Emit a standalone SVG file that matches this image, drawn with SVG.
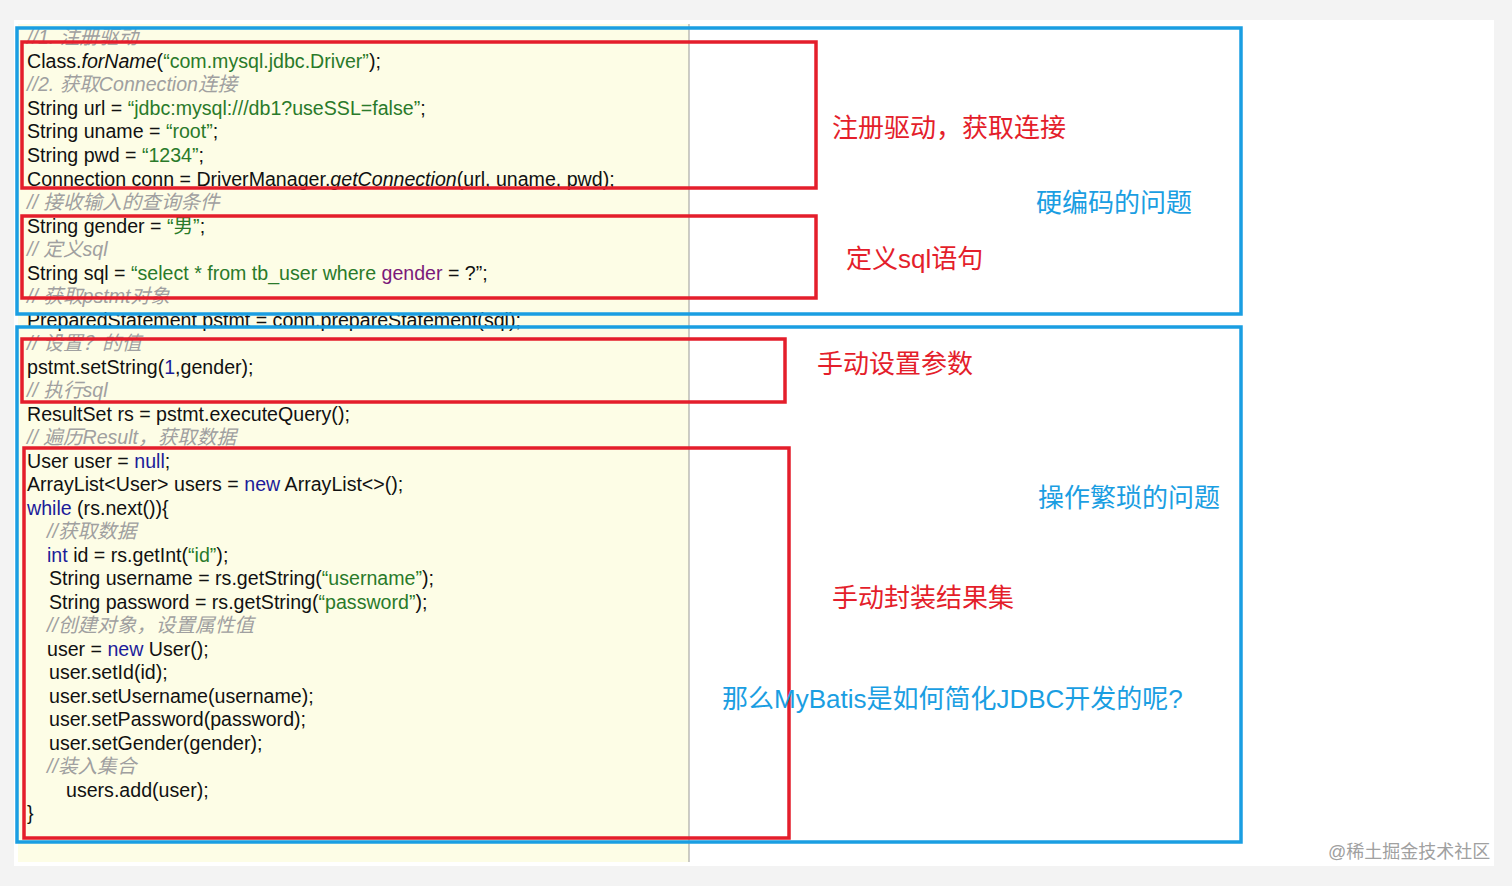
<svg xmlns="http://www.w3.org/2000/svg" width="1512" height="886" viewBox="0 0 1512 886">
<style>
text{font-family:"Liberation Sans","Noto Sans CJK SC",sans-serif}
.c{font-size:19.6px;fill:#111}
.m{fill:#a0a0a0;font-style:italic}
.s{fill:#2a7a2a}
.k{fill:#1c1c9a}
.p{fill:#7a1a7a}
.r{fill:none;stroke:#e41e2b;stroke-width:3.5}
.b{fill:none;stroke:#1a9ee2;stroke-width:3.5}
.lr{font-size:26px;fill:#e41e2b}
.lb{font-size:26px;fill:#1a9ee2}
</style>
<rect width="1512" height="886" fill="#f3f3f3"/>
<rect x="14" y="20" width="1480" height="846" fill="#fff"/>
<g id="code">
<rect x="18" y="24" width="671" height="838" fill="#fdfde6"/>
<line x1="689" y1="24" x2="689" y2="862" stroke="#999" stroke-width="1"/>
<g class="c">
<text x="27" y="44" class="m">//1. 注册驱动</text>
<text x="27" y="68">Class.<tspan font-style="italic">forName</tspan>(<tspan class="s">“com.mysql.jdbc.Driver”</tspan>);</text>
<text x="27" y="91" class="m">//2. 获取Connection连接</text>
<text x="27" y="115">String url = <tspan class="s">“jdbc:mysql:///db1?useSSL=false”</tspan>;</text>
<text x="27" y="138">String uname = <tspan class="s">“root”</tspan>;</text>
<text x="27" y="162">String pwd = <tspan class="s">“1234”</tspan>;</text>
<text x="27" y="186">Connection conn = DriverManager.<tspan font-style="italic">getConnection</tspan>(url, uname, pwd);</text>
<text x="27" y="209" class="m">// 接收输入的查询条件</text>
<text x="27" y="233">String gender = <tspan class="s">“男”</tspan>;</text>
<text x="27" y="256" class="m">// 定义sql</text>
<text x="27" y="280">String sql = <tspan class="s">“select * from tb_user where </tspan><tspan class="p">gender</tspan> = ?”;</text>
<text x="27" y="303" class="m">// 获取pstmt对象</text>
<text x="27" y="327">PreparedStatement pstmt = conn.prepareStatement(sql);</text>
<text x="27" y="350" class="m">// 设置？的值</text>
<text x="27" y="374">pstmt.setString(<tspan class="k">1</tspan>,gender);</text>
<text x="27" y="397" class="m">// 执行sql</text>
<text x="27" y="421">ResultSet rs = pstmt.executeQuery();</text>
<text x="27" y="444" class="m">// 遍历Result，获取数据</text>
<text x="27" y="468">User user = <tspan class="k">null</tspan>;</text>
<text x="27" y="491">ArrayList&lt;User&gt; users = <tspan class="k">new</tspan> ArrayList&lt;&gt;();</text>
<text x="27" y="515"><tspan class="k">while</tspan> (rs.next()){</text>
<text x="47" y="538" class="m">//获取数据</text>
<text x="47" y="562"><tspan class="k">int</tspan> id = rs.getInt(<tspan class="s">“id”</tspan>);</text>
<text x="49" y="585">String username = rs.getString(<tspan class="s">“username”</tspan>);</text>
<text x="49" y="609">String password = rs.getString(<tspan class="s">“password”</tspan>);</text>
<text x="47" y="632" class="m">//创建对象，设置属性值</text>
<text x="47" y="656">user = <tspan class="k">new</tspan> User();</text>
<text x="49" y="679">user.setId(id);</text>
<text x="49" y="703">user.setUsername(username);</text>
<text x="49" y="726">user.setPassword(password);</text>
<text x="49" y="750">user.setGender(gender);</text>
<text x="47" y="773" class="m">//装入集合</text>
<text x="66" y="797">users.add(user);</text>
<text x="27" y="820">}</text>
</g>
</g>
<g id="boxes">
<rect class="b" x="17" y="28" width="1224" height="286"/>
<rect class="b" x="17" y="327" width="1224" height="515"/>
<rect class="r" x="22" y="42" width="794" height="146"/>
<rect class="r" x="22" y="216" width="794" height="82"/>
<rect class="r" x="22" y="339" width="763" height="63"/>
<rect class="r" x="24" y="448" width="765" height="390"/>
</g>
<g id="labels">
<text class="lr" x="832" y="137">注册驱动，获取连接</text>
<text class="lr" x="846" y="268">定义sql语句</text>
<text class="lr" x="817" y="373">手动设置参数</text>
<text class="lr" x="832" y="607">手动封装结果集</text>
<text class="lb" x="1036" y="212">硬编码的问题</text>
<text class="lb" x="1038" y="507">操作繁琐的问题</text>
<text class="lb" x="722" y="708" font-size="27">那么MyBatis是如何简化JDBC开发的呢?</text>
<text x="1328" y="858" font-size="18" fill="#a0a0a0">@稀土掘金技术社区</text>
</g>
</svg>
